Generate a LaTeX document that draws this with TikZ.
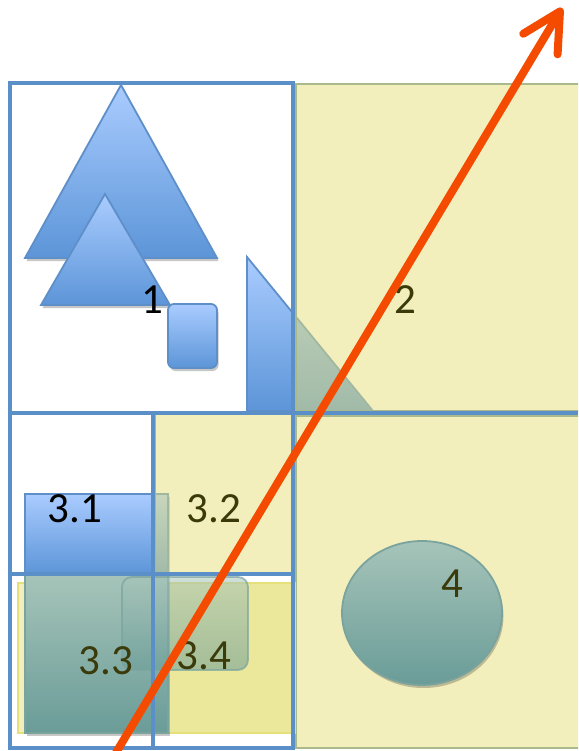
\documentclass[tikz,border=0pt]{standalone}
\usepackage{fontspec}
\setmainfont{Carlito}
\usetikzlibrary{arrows.meta,shadows}
\definecolor{gridblue}{HTML}{5B8FC8}
\definecolor{bluetop}{HTML}{AACCFF}
\definecolor{bluebot}{HTML}{5C95D8}
\definecolor{blueline}{HTML}{5E8FC8}
\definecolor{yellowfill}{HTML}{E6E07A}
\definecolor{yellowline}{HTML}{A9B98C}
\definecolor{tealtop}{HTML}{A6C4B9}
\definecolor{tealbot}{HTML}{6A9C98}
\definecolor{tealline}{HTML}{7BA39E}
\definecolor{rayorange}{HTML}{F44B00}
\definecolor{olivetext}{HTML}{3A3A0A}
\tikzset{
  softshadow/.style={general shadow={fill=black,opacity=.22,shadow xshift=1.5pt,shadow yshift=-3pt}},
  blueshape/.style={draw=blueline,line width=1.8pt,top color=bluetop,bottom color=bluebot,softshadow},
  tealshape/.style={draw=tealline,line width=1.8pt,top color=tealtop,bottom color=tealbot,softshadow},
  tealbox/.style={draw=tealline,line width=1.8pt,top color=tealtop,bottom color=tealbot,fill opacity=.55,draw opacity=.7},
  yellowarea/.style={fill=yellowfill,fill opacity=.5,draw=yellowline,line width=1.2pt},
  gridline/.style={draw=gridblue,line width=3.5pt},
  ray/.style={-{Straight Barb[length=38pt,width=40pt,round]},line width=8pt,color=rayorange},
  lbl/.style={font=\fontsize{43}{48}\selectfont,text=olivetext,inner sep=0pt},
}

\begin{document}
\begin{tikzpicture}[x=1pt,y=-1pt]
  \useasboundingbox (0,0) rectangle (578,751);
  \clip (0,0) rectangle (578,751);

  % quadrant 1 shapes
  \path[blueshape] (121,85) -- (217,258) -- (25,258) -- cycle;
  \path[blueshape] (105,194) -- (170,305) -- (41,305) -- cycle;
  \path[blueshape,rounded corners=6pt] (168,304) rectangle (217,368);
  \path[blueshape] (247,257) -- (373,411) -- (247,411) -- cycle;
  % quadrant 3 shapes
  \path[blueshape] (25,494) rectangle (168,574);

  % yellow quadrants
  \path[yellowarea] (296,84) rectangle (600,411);
  \path[yellowarea] (296,416) rectangle (600,748);
  \path[yellowarea] (155,413) rectangle (293,574);
  \path[yellowarea,draw=none] (155,583) rectangle (293,733);
  \path[yellowarea,draw=yellowfill] (18,583) rectangle (295,733);

  \path[tealshape] (25,575) rectangle (168,733);
  \path[tealbox,rounded corners=10pt] (122,577) rectangle (248,670);
  \path[tealshape] (422,613) ellipse [x radius=80,y radius=72];

  % grid
  \draw[gridline] (10,83) rectangle (293,748);
  \draw[gridline] (10,413) -- (578,413);
  \draw[gridline] (153,411) -- (153,748);
  \draw[gridline] (10,574) -- (293,574);

  \node[lbl,text=black] (one) at (152,300) {1};
  \node[lbl] (two) at (405,300) {2};
  \node[lbl,text=black] (three1) at (75,509) {3.1};
  \node[lbl] (three2) at (214,509) {3.2};
  \node[lbl] (three3) at (106,661) {3.3};
  \node[lbl] (three4) at (204,656) {3.4};
  \node[lbl] (four) at (452,584) {4};

  % split direction
  \coordinate (tail) at (111,761);
  \coordinate (tip) at (562,8);
  \draw[ray] (tail) -- (tip);
\end{tikzpicture}
\end{document}
